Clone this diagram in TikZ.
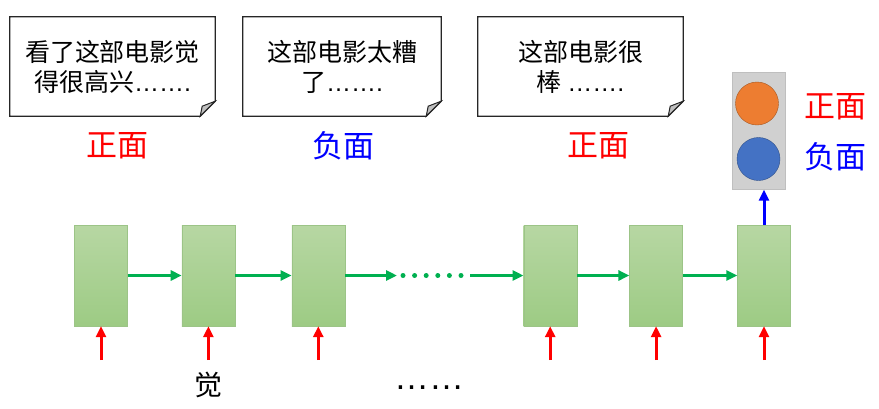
\documentclass[tikz,border=0pt]{standalone}
\usepackage{fontspec}
\setmainfont{Noto Sans CJK SC}
\newfontfamily\dotfont{Liberation Sans}
\usetikzlibrary{arrows.meta,positioning}

\definecolor{celltop}{HTML}{B7D7A3}
\definecolor{cellbot}{HTML}{9DCB84}
\definecolor{cellline}{HTML}{9CC487}
\definecolor{flowgreen}{HTML}{00B050}
\definecolor{lampgray}{HTML}{D0D0D0}
\definecolor{lampline}{HTML}{BFBFBF}
\definecolor{posorange}{HTML}{ED7D31}
\definecolor{negblue}{HTML}{4472C4}

\begin{document}
\begin{tikzpicture}[x=1pt,y=-1pt,
cell/.style={draw=cellline,top color=celltop,bottom color=cellbot,minimum width=53pt,minimum height=101pt,inner sep=0pt},
note/.style={minimum width=205pt,minimum height=99pt,align=center,inner sep=0pt,font=\fontsize{25}{30}\selectfont},
noteline/.style={draw=black!85,line width=1.2pt},
fold/.style={fill=black!25,draw=black!85,line width=1pt},
tag/.style={inner sep=0pt,font=\fontsize{31}{31}\selectfont},
flow/.style={-{Triangle[length=11pt,width=10pt]},line width=3pt,draw=flowgreen},
input/.style={-{Triangle[length=11pt,width=10pt]},line width=3pt,red},
output/.style={-{Triangle[length=11pt,width=10pt]},line width=3pt,blue}
]
\useasboundingbox (0,0) rectangle (879,408);

% review notes
\node[note] (n1) at (112.5,66.5) {看了这部电影觉\\得很高兴{\dotfont …….}};
\node[note,minimum width=198pt] (n2) at (342,66.5) {这部电影太糟\\了{\dotfont …….}};
\node[note] (n3) at (580.5,66.5) {这部电影很\\棒 {\dotfont …….}};
\foreach \n in {n1,n2,n3}{
  \draw[noteline] (\n.north west) -- (\n.north east) -- ([yshift=15pt]\n.south east)
    -- ([xshift=-15pt]\n.south east) -- (\n.south west) -- cycle;
  \draw[fold] ([yshift=15pt]\n.south east) -- ([xshift=-15pt]\n.south east)
    -- ([xshift=-13pt,yshift=10pt]\n.south east) -- cycle;
}
\node[tag,red] (t1) at (117,146) {正面};
\node[tag,blue] (t2) at (343,146) {负面};
\node[tag,red] (t3) at (598,146) {正面};

% rnn cells
\node[cell] (c1) at (101,275.5) {};
\node[cell,right=54pt of c1] (c2) {};
\node[cell,right=56.5pt of c2] (c3) {};
\node[cell,right=178.5pt of c3] (c4) {};
\node[cell,right=52.5pt of c4] (c5) {};
\node[cell,right=54.5pt of c5] (c6) {};

\coordinate (g1) at (397,275.5);
\coordinate (g2) at (470,275.5);
\draw[flow] (c1) -- (c2);
\draw[flow] (c2) -- (c3);
\draw[flow] (c3) -- (g1);
\draw[flowgreen,line width=5pt,line cap=round,dash pattern=on 0pt off 11.6pt]
  ([xshift=6pt]g1) -- ([xshift=-8pt]g2);
\draw[flow] (g2) -- (c4);
\draw[flow] (c4) -- (c5);
\draw[flow] (c5) -- (c6);

% inputs
\foreach \c in {c1,c2,c3,c4,c5,c6}{
  \coordinate (\c in) at ([yshift=-34pt]\c.south);
  \draw[input] (\c in) -- (\c.south);
}
\node[font=\fontsize{28}{28}\selectfont] (w2) at (208,385) {觉};
\node[font=\dotfont\fontsize{35}{35}\selectfont] (more) at (429,388) {……};

% output lamp
\node[draw=lampline,fill=lampgray,minimum width=53pt,minimum height=117pt,inner sep=0pt] (lamp) at (758.5,131) {};
\node[circle,fill=posorange,draw=posorange!70!black,minimum size=43pt,inner sep=0pt] (pos) at (757,103.5) {};
\node[circle,fill=negblue,draw=negblue!70!black,minimum size=43pt,inner sep=0pt] (neg) at (758.5,159) {};
\draw[output] (c6.north) -- (c6.north |- lamp.south);
\node[tag,red] (pl) at (835,107) {正面};
\node[tag,blue] (nl) at (835,157) {负面};
\end{tikzpicture}
\end{document}
